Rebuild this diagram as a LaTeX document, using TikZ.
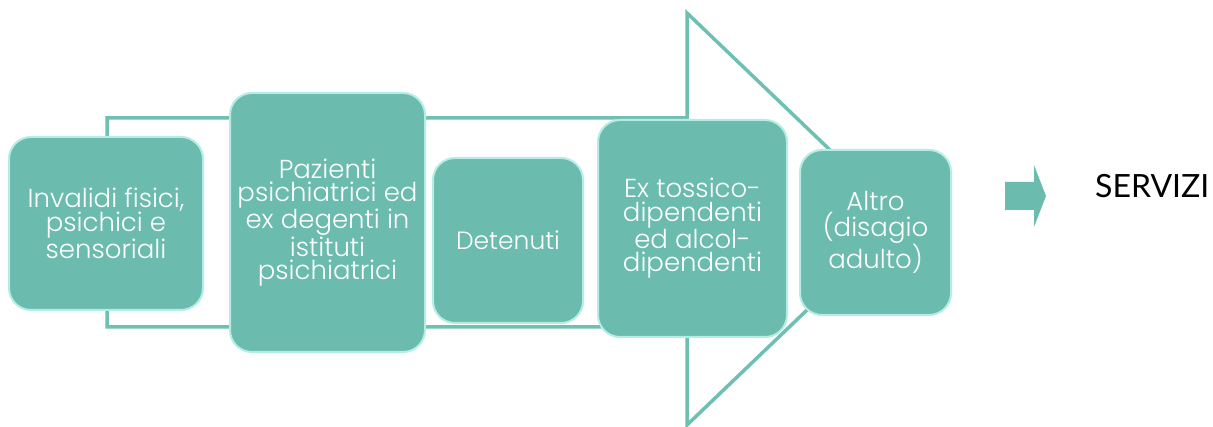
\documentclass[tikz,border=0pt]{standalone}
\usepackage{fontspec}
\setmainfont{Poppins}[UprightFont={* Light}]
\newfontfamily\servfont{Lato}
\definecolor{teal1}{HTML}{6BBBAE}
\definecolor{tealedge}{HTML}{B4EDE4}
\definecolor{tealline}{HTML}{6FC0B2}
\begin{document}
\begin{tikzpicture}[x=1pt,y=-1pt,
  box/.style={rectangle, rounded corners=22pt, fill=teal1, draw=tealedge, line width=2pt,
    text=white, align=center, font=\fontsize{26}{23.5}\selectfont, inner sep=4pt},
  bigarrow/.style={draw=tealline, line width=3.5pt, fill=white, line join=miter}]
\useasboundingbox (0,0) rectangle (1213,427);
\fill[white] (0,0) rectangle (1213,427);
% big outline arrow
\draw[bigarrow] (107,118) -- (687,118) -- (687,13) -- (902,219) -- (687,425) -- (687,327) -- (107,327) -- cycle;
% boxes
\node[box, minimum width=194pt, minimum height=173pt] (b1) at (106,223.5) {Invalidi fisici,\\psichici e\\sensoriali};
\node[box, minimum width=195pt, minimum height=259pt] (b2) at (327.5,222.5) {Pazienti\\psichiatrici ed\\ex degenti in\\istituti\\psichiatrici};
\node[box, minimum width=150pt, minimum height=165pt, font=\fontsize{25}{23.5}\selectfont] (b3) at (508,240.5) {Detenuti};
\node[box, minimum width=189pt, minimum height=217pt] (b4) at (692.5,228.5) {Ex tossico-\\dipendenti\\ed alcol-\\dipendenti};
\node[box, minimum width=151pt, minimum height=165pt] (b5) at (875.5,232.5) {Altro\\(disagio\\adulto)};
% small arrow
\fill[teal1] (1005,182) -- (1034,182) -- (1034,165) -- (1046,196) -- (1034,227) -- (1034,210) -- (1005,210) -- cycle;
\node[anchor=base west, inner sep=0pt, font=\servfont\fontsize{32}{38}\selectfont] (serv) at (1095,198) {SERVIZI};
\end{tikzpicture}
\end{document}
